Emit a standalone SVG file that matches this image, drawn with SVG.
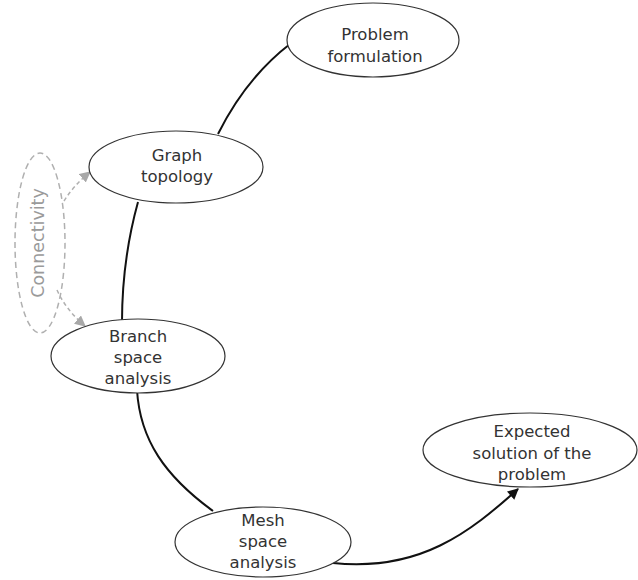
<svg xmlns="http://www.w3.org/2000/svg" width="638" height="580" viewBox="0 0 638 580">
  <style>
    .node ellipse { fill: #ffffff; stroke: #333333; stroke-width: 1.2; }
    .node text { font-family: "DejaVu Sans", "Liberation Sans", sans-serif; font-size: 16.5px; fill: #333333; text-anchor: middle; }
    .flow { fill: none; stroke: #111111; stroke-width: 2; }
    .link { fill: none; stroke: #b0b0b0; stroke-width: 1.5; stroke-dasharray: 4 3; }
    .group { fill: none; stroke: #b0b0b0; stroke-width: 1.5; stroke-dasharray: 6 4; }
    .group-label { font-family: "DejaVu Sans", "Liberation Sans", sans-serif; font-size: 17.5px; fill: #9a9a9a; text-anchor: middle; }
  </style>
  <defs>
    <marker id="arrow-black" viewBox="0 0 10 10" refX="9" refY="5" markerWidth="12" markerHeight="11" markerUnits="userSpaceOnUse" orient="auto">
      <path d="M0,0 L10,5 L0,10 z" fill="#111111"/>
    </marker>
    <marker id="arrow-gray" viewBox="0 0 10 10" refX="9" refY="5" markerWidth="11" markerHeight="11" markerUnits="userSpaceOnUse" orient="auto">
      <path d="M0,0 L10,5 L0,10 z" fill="#a8a8a8"/>
    </marker>
  </defs>

  <!-- main process flow, drawn beneath the nodes -->
  <g id="connectors">
    <path class="flow" d="M290,44 Q246,78 218,134"/>
    <path class="flow" d="M138,202 Q122,260 122,322"/>
    <path class="flow" d="M137,390 C140,440 165,476 213,511"/>
    <path class="flow" d="M333,563 C420,572 470,532 518,489" marker-end="url(#arrow-black)"/>
    <path class="link" d="M64,201 Q74,185 90,172" marker-end="url(#arrow-gray)"/>
    <path class="link" d="M57,290 Q66,310 85,326" marker-end="url(#arrow-gray)"/>
  </g>

  <g id="connectivity">
    <ellipse class="group" cx="40" cy="243" rx="25" ry="90"/>
    <text class="group-label" transform="translate(44,243) rotate(-90)">Connectivity</text>
  </g>

  <g id="problem-formulation" class="node">
    <ellipse cx="373" cy="40" rx="86" ry="37"/>
    <text x="375" y="40">Problem</text>
    <text x="375" y="62">formulation</text>
  </g>

  <g id="graph-topology" class="node">
    <ellipse cx="176" cy="167" rx="87" ry="36"/>
    <text x="177" y="161">Graph</text>
    <text x="177" y="182">topology</text>
  </g>

  <g id="branch-space-analysis" class="node">
    <ellipse cx="138" cy="356" rx="87" ry="37"/>
    <text x="138" y="342">Branch</text>
    <text x="138" y="363">space</text>
    <text x="138" y="384">analysis</text>
  </g>

  <g id="mesh-space-analysis" class="node">
    <ellipse cx="263" cy="542" rx="88" ry="35"/>
    <text x="263" y="526">Mesh</text>
    <text x="263" y="547">space</text>
    <text x="263" y="568">analysis</text>
  </g>

  <g id="expected-solution" class="node">
    <ellipse cx="530" cy="450" rx="107" ry="37"/>
    <text x="532" y="437">Expected</text>
    <text x="532" y="459">solution of the</text>
    <text x="532" y="480">problem</text>
  </g>
</svg>
